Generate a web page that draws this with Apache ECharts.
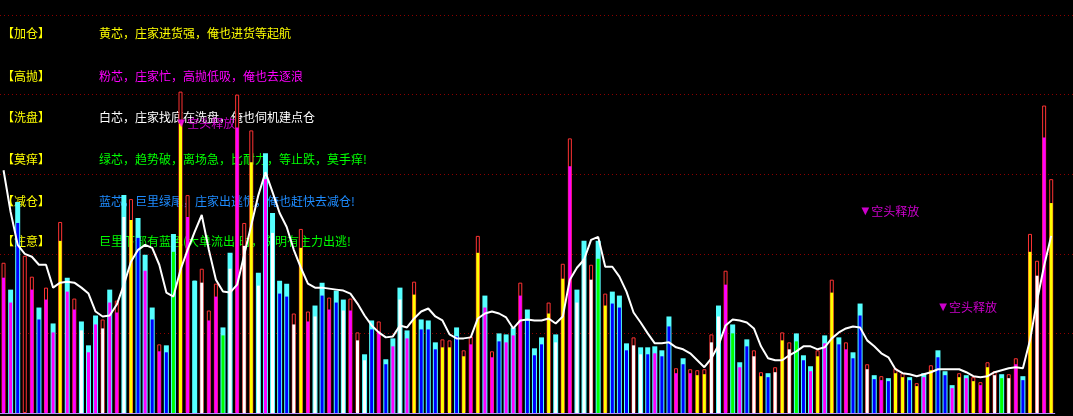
<!DOCTYPE html>
<html><head><meta charset="utf-8">
<script src="https://cdn.jsdelivr.net/npm/echarts@6/dist/echarts.min.js"></script>
<style>html,body{margin:0;padding:0;background:#000;overflow:hidden}#c{width:1073px;height:416px}</style>
</head><body><div id="c"></div>
<script>
// ---- data (one entry per trading day, 149 days) ----
// outer bar kind: R = red hollow box, C = cyan solid box
const outerKind = ("RCCRRCRCRC" + "RCCCRCRCRC" + "CCRCCRRCRR" + "RCCRRRCCCC" + "CRRRCCRCCR" +
  "RCCRCCCCRC" + "CCRRCRRRCR" + "CCCRCCCRCR" + "RCCRCRCCCR" + "CCCCCRCRRR" +
  "RCRCCCRRCR" + "RRCCCRCRCR" + "CCRCRCRRCR" + "CRCCCRCRRR" + "RCRRCRRRR").split('');
// inner core colour: Y yellow, M pink, W white, B blue, G green, C cyan
const innerKind = ("MMBMMBMMYM" + "MWMMWMMWYB" + "MBMBGYMCWM" + "MGWMWYWMWB" + "BWYMWBMBWM" +
  "WWBMBMWMYB" + "BBYYBYMYMM" + "BMMMBBBYWY" + "MWWWGYBBBW" + "WBMBBMBMYY" +
  "WWMGMBWYBW" + "YWGBMYMYBM" + "BBWBMBYYBY" + "MYBBMYMYMY" + "WGWMBYWMY").split('');
const outerVal = [151,124,212,158,137,106,126,90,192,136,
  115,92,68,98,94,124,113,219,215,196,
  159,106,69,68,180,323,219,133,145,103,
  130,86,161,320,191,284,141,261,201,133,
  130,100,185,102,108,131,116,123,114,115,
  81,59,93,92,54,75,126,83,132,94,
  93,71,74,73,86,63,77,178,118,62,
  80,79,86,131,104,65,76,111,79,150,
  276,124,173,149,173,120,122,118,70,76,
  66,66,67,63,97,45,55,44,43,44,
  79,108,143,89,51,74,63,41,40,46,
  81,71,80,58,47,63,78,134,76,71,
  61,110,49,38,37,35,45,40,36,30,
  40,48,63,42,28,40,38,36,31,51,
  42,39,39,55,37,180,153,309,235];
const innerVal = [136,111,191,0,124,94,114,81,173,122,
  104,83,61,89,85,111,101,197,194,176,
  143,94,62,61,162,291,197,133,131,93,
  117,78,145,287,168,252,128,235,181,120,
  117,89,166,92,97,118,104,111,103,103,
  73,53,84,82,49,67,114,75,119,84,
  84,64,66,66,77,57,69,161,106,56,
  72,71,78,118,93,58,69,100,71,135,
  248,111,155,134,155,108,110,106,63,68,
  59,59,60,57,87,40,49,40,38,39,
  71,97,129,80,46,67,57,37,36,41,
  73,64,72,53,42,57,70,121,69,64,
  55,98,44,34,33,32,40,36,33,27,
  36,43,56,38,25,36,35,32,28,46,
  38,35,35,49,33,162,138,277,211];
const maLine = [244,202,169,160,157,149,149,126,131,132,
  131,126,120,102,97,98,109,129,152,164,
  169,166,149,121,117,144,164,182,199,164,
  134,122,121,129,159,189,219,242,222,201,
  187,164,146,130,126,126,125,124,123,120,
  110,98,88,81,76,77,88,86,95,102,
  105,97,93,79,75,75,76,95,100,102,
  100,96,85,93,94,93,93,95,90,97,
  134,146,154,174,177,147,147,137,122,101,
  91,80,70,70,71,66,64,60,53,46,
  55,68,88,94,93,91,85,67,55,53,
  53,58,62,67,67,64,66,75,81,85,
  87,86,73,67,60,56,44,40,39,37,
  39,41,44,44,44,44,41,37,36,37,
  41,43,45,46,45,73,113,148,178];
// signal markers: [day index, level]
const signals = [[25, 291], [122, 203], [133, 106]];
const signalText = '空头释放';
const legendRows = [
  ['【加仓】', '黄芯，庄家进货强，俺也进货等起航', '#ffff00'],
  ['【高抛】', '粉芯，庄家忙，高抛低吸，俺也去逐浪', '#ff00ff'],
  ['【洗盘】', '白芯，庄家找底在洗盘，俺也伺机建点仓', '#ffffff'],
  ['【莫痒】', '绿芯，趋势破，离场急，比耐力，等止跌，莫手痒!', '#00ff00'],
  ['【减仓】', '蓝芯，巨里绿尾，庄家出逃慌，俺也赶快去减仓!', '#1e8cff'],
  ['【注意】', '巨里下部有蓝色(大单流出)时，说明有主力出逃!', '#00ff00']
];
const categories = outerVal.map((_, i) => String(i + 1));

// ---- styling ----
const COL = {Y:'#ffff00', M:'#ff00ff', W:'#ffffff', B:'#0000ff', G:'#00ff00', C:'#55ffff'};
const RED = '#ff3333';
const FONT = '"Noto Sans CJK SC", "Noto Sans", sans-serif';

const cyanData = outerVal.map((v, i) => outerKind[i] === 'C' ? v : '-');
const redData = outerVal.map((v, i) => outerKind[i] === 'R' ? v : '-');
const innerData = innerVal.map((v, i) => ({value: v, itemStyle: {color: COL[innerKind[i]]}}));
const offsets = [-2.9, -5.6, -5.7];

const graphics = [];
const rowY = [33, 76, 117.5, 159, 201, 241];
legendRows.forEach((r, k) => {
  graphics.push({type:'text', x:2, y:rowY[k], z:0, style:{text:r[0], fill:'#ffff00', font:'12px ' + FONT, verticalAlign:'middle'}});
  graphics.push({type:'text', x:99, y:rowY[k], z:0, style:{text:r[1], fill:r[2], font:'12px ' + FONT, verticalAlign:'middle'}});
});

const chart = echarts.init(document.getElementById('c'), null, {renderer:'canvas'});
chart.setOption({
  backgroundColor: '#000',
  animation: false,
  graphic: graphics,
  grid: [
    {left: -3.15, right: 18.25, top: 15, bottom: 3},
    {left: 0, right: 0, top: 15, bottom: 3}
  ],
  xAxis: [
    {type:'category', gridIndex:0, data:categories, boundaryGap:true, offset:1,
     axisLine:{show:true, lineStyle:{color:'#b98cff', width:1}}, axisTick:{show:false}, axisLabel:{show:false}, splitLine:{show:false}},
    {type:'category', gridIndex:0, data:categories, show:false},
    {type:'category', gridIndex:0, data:categories, show:false},
    {type:'value', gridIndex:1, show:false, min:0, max:1}
  ],
  yAxis: [
    {type:'value', gridIndex:0, min:0, max:400, interval:80, show:false, splitLine:{show:false}},
    {type:'value', gridIndex:1, min:0, max:400, interval:80,
     axisLine:{show:false}, axisTick:{show:false}, axisLabel:{show:false},
     splitLine:{show:true, showMinLine:false, lineStyle:{color:'#8c0000', width:1, type:[1,3]}}}
  ],
  series: [
    {type:'bar', xAxisIndex:0, yAxisIndex:0, barWidth:5, z:2, data:cyanData,
     itemStyle:{color:COL.C}},
    {type:'bar', xAxisIndex:1, yAxisIndex:0, barWidth:4, z:2, data:redData,
     itemStyle:{color:'#000', borderColor:RED, borderWidth:1}},
    {type:'bar', xAxisIndex:2, yAxisIndex:0, barWidth:3, z:3, data:innerData},
    {type:'line', xAxisIndex:0, yAxisIndex:0, z:4, data:maLine, symbol:'none', smooth:false,
     lineStyle:{color:'#ffffff', width:2}},
    {type:'scatter', xAxisIndex:0, yAxisIndex:0, z:5, symbolSize:1, itemStyle:{color:'rgba(0,0,0,0)'},
     data: signals.map((s, k) => ({value:s, label:{offset:[offsets[k], 0]}})),
     label:{show:true, position:'inside', align:'left', verticalAlign:'middle',
       formatter:'{a|▼}{t|' + signalText + '}',
       rich:{a:{fontFamily:'DejaVu Sans', fontSize:10, color:'#ff00ff', padding:[0,2,0,0]},
             t:{fontFamily:FONT, fontSize:12, color:'#ff00ff'}}}}
  ]
});
</script>
</body></html>
